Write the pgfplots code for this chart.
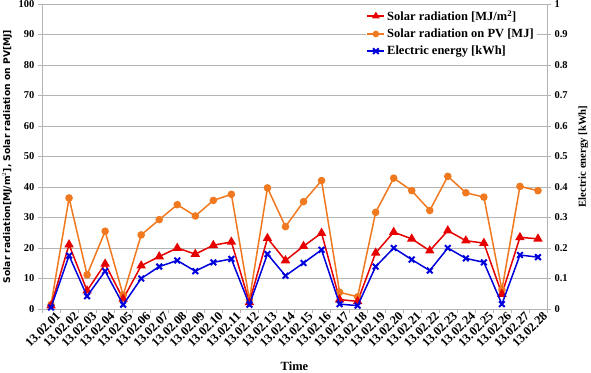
\documentclass[border=0pt]{standalone}
\usepackage{fontspec}
\setmainfont{Liberation Serif}
\newfontfamily\verd{DejaVu Sans}
\usepackage{pgfplots}
\usepackage{pgfplotstable}
\pgfplotsset{compat=1.18}
\definecolor{cred}{RGB}{230,0,0}
\definecolor{corange}{RGB}{240,120,30}
\definecolor{cblue}{RGB}{0,0,220}
\definecolor{cgrid}{RGB}{180,180,180}
\pgfplotstableread{
idx rad pv el
0 1.1 1.4 0.005
1 21.1 36.4 0.175
2 6.0 11.2 0.042
3 14.8 25.5 0.124
4 3.3 4.5 0.014
5 14.2 24.3 0.100
6 17.2 29.3 0.139
7 20.0 34.2 0.159
8 18.0 30.5 0.124
9 20.9 35.6 0.153
10 22.0 37.6 0.164
11 2.2 3.0 0.014
12 23.2 39.7 0.180
13 15.9 27.0 0.109
14 20.6 35.2 0.151
15 24.9 42.1 0.194
16 3.1 5.5 0.016
17 2.5 4.0 0.011
18 18.4 31.7 0.139
19 25.2 42.9 0.200
20 23.0 38.8 0.162
21 19.1 32.3 0.126
22 25.7 43.5 0.200
23 22.4 38.1 0.166
24 21.6 36.7 0.153
25 4.9 6.3 0.016
26 23.5 40.2 0.177
27 23.0 38.8 0.170
}\data
\begin{document}
\begin{tikzpicture}
\begin{axis}[
  width=505pt, height=305pt, scale only axis,
  xmin=-0.5, xmax=27.5, ymin=0, ymax=100,
  axis x line*=bottom, axis y line*=left,
  axis line style={draw=cgrid},
  xtick={0,...,27},
  xticklabels={13.02.01,13.02.02,13.02.03,13.02.04,13.02.05,13.02.06,13.02.07,13.02.08,13.02.09,13.02.10,13.02.11,13.02.12,13.02.13,13.02.14,13.02.15,13.02.16,13.02.17,13.02.18,13.02.19,13.02.20,13.02.21,13.02.22,13.02.23,13.02.24,13.02.25,13.02.26,13.02.27,13.02.28},
  minor xtick={-0.5,0.5,...,27.5},
  major x tick style={draw=none},
  minor x tick style={draw=cgrid},
  minor tick length=4pt,
  ytick={0,10,...,100},
  ytick style={draw=cgrid},
  major tick length=4pt,
  tick align=outside,
  ymajorgrids, grid style={draw=cgrid, line width=0.8pt},
  /pgf/number format/assume math mode=true,
  xticklabel style={rotate=45, anchor=north east, font=\fontsize{12.5}{14}\selectfont\bfseries, inner sep=0.5pt, xshift=5pt, yshift=-1pt},
  yticklabel style={font=\fontsize{10.5}{12}\selectfont\bfseries},
  xlabel={Time}, xlabel style={at={(axis description cs:0.5,0)}, anchor=center, yshift=-57pt, font=\fontsize{12.5}{14}\selectfont\bfseries},
  ylabel={Solar radiation[MJ/m$^2$], Solar radiation on PV[MJ]},
  ylabel style={font=\verd\fontsize{9.2}{10}\selectfont\bfseries},
]
\addplot[color=corange, line width=1.5pt, mark=*, mark size=3pt] table[x=idx, y=pv]{\data};
\addplot[color=cred, line width=1.5pt, mark=triangle*, mark size=4pt] table[x=idx, y=rad]{\data};
\end{axis}
\begin{axis}[
  width=505pt, height=305pt, scale only axis,
  xmin=-0.5, xmax=27.5, ymin=0, ymax=1,
  axis x line=none, axis y line*=right,
  axis line style={draw=cgrid},
  ytick={0,0.1,0.2,0.3,0.4,0.5,0.6,0.7,0.8,0.9,1},
  yticklabels={0,0.1,0.2,0.3,0.4,0.5,0.6,0.7,0.8,0.9,1},
  ytick style={draw=cgrid},
  major tick length=4pt, tick align=outside,
  yticklabel style={font=\fontsize{10.5}{12}\selectfont\bfseries},
  ylabel={Electric energy [kWh]},
  ylabel shift=4pt,
  ylabel style={font=\fontsize{10.7}{12}\selectfont\bfseries},
  legend style={at={(0.98,0.99)}, anchor=north east, draw=none, fill=white,
    font=\fontsize{12.5}{13}\selectfont\bfseries, row sep=3pt, inner sep=1pt},
  legend cell align=left,
]
\addlegendimage{color=cred, line width=1.5pt, mark=triangle*, mark size=3pt}
\addlegendentry{Solar radiation [MJ/m$^{\mathbf 2}$]}
\addlegendimage{color=corange, line width=1.5pt, mark=*, mark size=2.5pt}
\addlegendentry{Solar radiation on PV [MJ]}
\addplot[color=cblue, line width=1.5pt, mark=x, mark size=4pt, mark options={line width=2pt}] table[x=idx, y=el]{\data};
\addlegendentry{Electric energy [kWh]}
\end{axis}
\pgfresetboundingbox
\path (-42pt,-63pt) rectangle (549pt,309pt);
\end{tikzpicture}
\end{document}
